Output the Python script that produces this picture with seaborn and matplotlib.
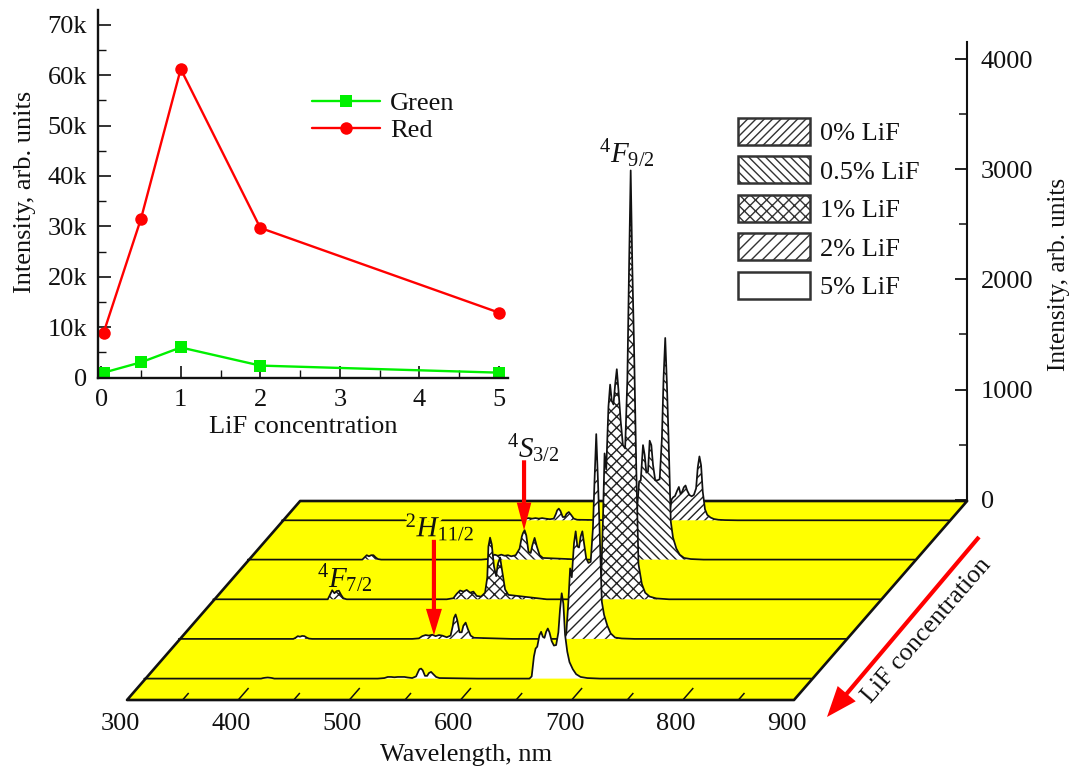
import numpy as np
import pandas as pd
import matplotlib
matplotlib.use('Agg')
import matplotlib.pyplot as plt
import matplotlib.patheffects as pe
from matplotlib.patches import Patch
from matplotlib.transforms import Affine2D
from matplotlib.ticker import MultipleLocator, FuncFormatter
import seaborn as sns

# Inset: integrated intensity vs LiF concentration
concentration = [0.03, 0.5, 1, 2, 5]
green_values = [1000, 3050, 6000, 2400, 1000]
red_values = [8900, 31500, 61200, 29700, 12900]

# Spectra on a shared wavelength grid
wavelength = [300, 403, 405, 407, 409, 411, 413, 415, 417, 420,
              510, 516, 519, 522, 525, 528, 531, 534, 537, 541,
              544.5, 546.5, 547.5, 549, 550.5, 552.5, 554.5, 556, 558, 560,
              562.5, 565.5, 600, 646.5, 648.5, 650.5, 652, 653.5, 655.5, 657,
              658.5, 660, 661.5, 663, 664.5, 666.5, 668.5, 670.5, 672.5, 674,
              675.5, 677, 678.5, 680.5, 682.5, 685.5, 688.5, 692.5, 698.5, 710, 900]
lif_0 = [0, 0, 0, 0, 0, 0, 0, 0, 0, 0,
         0, 0, 15, 20, 15, 20, 15, 20, 15, 10,
         15, 60, 90, 106, 85, 30, 30, 60, 75, 50,
         15, 5, 0, 0, 60, 190, 210, 220, 270, 303,
         240, 260, 300, 316, 270, 230, 218, 230, 290, 480,
         580, 500, 260, 100, 50, 25, 12, 5, 2, 0, 0]
lif_05 = [0, 0, 20, 40, 30, 40, 40, 20, 5, 0,
          0, 5, 25, 45, 35, 45, 35, 40, 30, 40,
          100, 210, 240, 267, 220, 70, 60, 130, 197, 120,
          40, 15, 0, 0, 20, 500, 710, 720, 1040, 950,
          790, 800, 1080, 1040, 860, 720, 720, 730, 1100, 1650,
          2013, 1600, 1100, 345, 200, 100, 45, 15, 5, 0, 0]
lif_1 = [0, 0, 40, 82, 55, 75, 78, 40, 10, 0,
         0, 10, 50, 80, 70, 85, 60, 70, 30, 25,
         60, 200, 480, 560, 500, 300, 210, 320, 380, 250,
         90, 40, 0, 0, 40, 700, 1325, 1180, 1750, 1950,
         1800, 1770, 1950, 2090, 1900, 1620, 1400, 1370, 2000, 3000,
         3895, 3000, 2300, 1200, 320, 140, 60, 25, 8, 0, 0]
lif_2 = [0, 0, 10, 25, 20, 27, 25, 12, 3, 0,
         0, 5, 25, 35, 30, 38, 25, 35, 30, 15,
         30, 120, 190, 222, 170, 60, 60, 120, 148, 90,
         30, 10, 0, 0, 40, 350, 640, 560, 870, 977,
         840, 830, 930, 977, 870, 730, 690, 700, 1000, 1450,
         1860, 1450, 1000, 340, 220, 120, 50, 12, 4, 0, 0]
lif_5 = [0, 0, 0, 5, 8, 10, 8, 5, 0, 0,
         0, 5, 15, 15, 12, 15, 15, 15, 10, 5,
         20, 65, 85, 91, 75, 25, 25, 50, 61, 40,
         15, 5, 0, 0, 20, 200, 273, 290, 395, 425,
         380, 370, 425, 455, 420, 340, 300, 305, 420, 630,
         775, 680, 400, 245, 150, 85, 40, 15, 5, 0, 0]

spectra = [lif_0, lif_05, lif_1, lif_2, lif_5]
legend_labels = ['0% LiF', '0.5% LiF', '1% LiF', '2% LiF', '5% LiF']
hatches = ['////', '\\\\\\\\', 'xxx', '///', '']
row_depth = [20.7, 60, 99.7, 139.3, 179]   # px below the back edge of the floor
floor_depth = 199
SLANT = 0.87
W, H = 1071, 770
FS = 19


def px(x, y):
    return x / W, 1 - y / H


sns.set_theme(style='ticks')
plt.rcParams['font.family'] = ['Liberation Serif']
plt.rcParams['mathtext.fontset'] = 'custom'
plt.rcParams['mathtext.rm'] = 'Liberation Serif'
plt.rcParams['mathtext.it'] = 'Liberation Serif:italic'
plt.rcParams['hatch.linewidth'] = 1.0
plt.rcParams['text.color'] = '#111111'
plt.rcParams['xtick.color'] = '#111111'
plt.rcParams['ytick.color'] = '#111111'

fig = plt.figure(figsize=(W / 100, H / 100), dpi=100, facecolor='white')

# Floor: wavelength across, depth into the picture, sheared
ax_floor = fig.add_axes([127 / W, (H - 700) / H, 667 / W, floor_depth / H], zorder=1)
ax_floor.set_xlim(300, 900)
ax_floor.set_ylim(0, floor_depth)
ax_floor.patch.set_visible(False)
for s in ax_floor.spines.values():
    s.set_visible(False)
y0 = H - 700
shear = Affine2D().translate(0, -y0).skew(np.arctan(SLANT), 0).translate(0, y0)
floor_trans = ax_floor.transData + shear
ax_floor.fill([300, 900, 900, 300], [0, 0, floor_depth, floor_depth], facecolor='#ffff00',
              edgecolor='#111111', linewidth=1.9, joinstyle='round', transform=floor_trans, clip_on=False)
ax_floor.vlines(np.arange(400, 900, 100), 0, 12, color='#111111', linewidth=1.1, transform=floor_trans)
ax_floor.vlines(np.arange(350, 900, 100), 0, 7, color='#111111', linewidth=1.1, transform=floor_trans)
ax_floor.set_xticks(np.arange(300, 901, 100))
ax_floor.set_yticks([])
ax_floor.tick_params(axis='x', length=0, pad=9, labelsize=FS)
for lab in ax_floor.get_xticklabels():
    lab.set_transform(lab.get_transform() + Affine2D().translate(-7, 0))

# Main axes: wavelength / intensity, only the right spine is shown
top = (499.6 - 41.7) / 0.1101
ax = fig.add_axes([300 / W, (H - 499.6) / H, 667 / W, (499.6 - 41.7) / H], zorder=2)
ax.set_xlim(300, 900)
ax.patch.set_visible(False)
for name, s in ax.spines.items():
    s.set_visible(name == 'right')
    s.set_linewidth(1.5)
    s.set_color('#111111')

for i, vals in enumerate(spectra):
    d = row_depth[i]
    row_trans = ax.transData + Affine2D().translate(-SLANT * d, -d)
    ax.fill_between(wavelength, 0, vals, facecolor='white', edgecolor='#222222', hatch=hatches[i],
                    linewidth=0, transform=row_trans, clip_on=False, zorder=2 + i)
    sns.lineplot(x=wavelength, y=vals, ax=ax, color='#111111', linewidth=1.25, estimator=None,
                 sort=False, errorbar=None, transform=row_trans, clip_on=False, zorder=2 + i,
                 solid_joinstyle='round')

ax.set_xlim(300, 900)
ax.set_ylim(0, top)
ax.set_xticks([])
ax.yaxis.tick_right()
ax.set_yticks([0, 1000, 2000, 3000, 4000])
ax.yaxis.set_minor_locator(MultipleLocator(500))
ax.tick_params(axis='y', which='major', direction='in', length=9, width=1.3, pad=10, labelsize=FS, right=True, left=False)
ax.tick_params(axis='y', which='minor', direction='in', length=5.5, width=1.1, right=True, left=False)

# Red arrows on the spectra
arrow_row = ax.transData + Affine2D().translate(-SLANT * row_depth[1], -row_depth[1])
ax.annotate('', xy=(548.5, 266), xycoords=arrow_row, xytext=(0, 70), textcoords='offset pixels', zorder=20,
            arrowprops=dict(arrowstyle='simple,head_length=20,head_width=10.5,tail_width=3', mutation_scale=1,
                            color='#ff0000', lw=0, shrinkA=0, shrinkB=0))
arrow_row = ax.transData + Affine2D().translate(-SLANT * row_depth[3], -row_depth[3])
ax.annotate('', xy=(529.5, 33), xycoords=arrow_row, xytext=(0, 96), textcoords='offset pixels', zorder=20,
            arrowprops=dict(arrowstyle='simple,head_length=19,head_width=11.5,tail_width=3', mutation_scale=1,
                            color='#ff0000', lw=0, shrinkA=0, shrinkB=0))
ax.annotate('', xy=(827, H - 717), xycoords='figure pixels', xytext=(979, H - 537), textcoords='figure pixels',
            zorder=20, arrowprops=dict(arrowstyle='simple,head_length=22,head_width=17,tail_width=3', mutation_scale=1,
                                       color='#ff0000', lw=0, shrinkA=0, shrinkB=0))

# Legend of the spectra
handles = [Patch(facecolor='white', edgecolor='#333333', hatch=h, linewidth=1.8) for h in hatches]
fig.legend(handles, legend_labels, loc='upper left', bbox_to_anchor=px(738, 118), frameon=False, fontsize=FS,
           borderpad=0, borderaxespad=0, handlelength=2.73, handleheight=1.19, labelspacing=0.42, handletextpad=0.38)

# Level labels
stroke = [pe.withStroke(linewidth=5, foreground='#ffff00')]
fig.text(*px(627, 154), r'$^{4}F_{9/2}$', fontsize=21, ha='center', va='center')
fig.text(*px(533, 449), r'$^{4}S_{3/2}$', fontsize=21, ha='center', va='center')
fig.text(*px(440, 527), r'$^{2}H_{11/2}$', fontsize=21, ha='center', va='center', path_effects=stroke)
fig.text(*px(345, 579), r'$^{4}F_{7/2}$', fontsize=21, ha='center', va='center')

fig.text(*px(466, 755), 'Wavelength, nm', fontsize=FS, ha='center', va='center')
fig.text(*px(1059, 274), 'Intensity, arb. units', fontsize=18.2, rotation=90, ha='center', va='center')
fig.text(*px(927, 631), 'LiF concentration', fontsize=18.5, rotation=49, ha='center', va='center', rotation_mode='anchor')

# Inset
inset = fig.add_axes([98 / W, (H - 377.7) / H, 409.7 / W, 367.7 / H], zorder=3)
inset.patch.set_visible(False)
df = pd.DataFrame({'LiF': concentration * 2,
                   'Intensity': red_values + green_values,
                   'Band': ['Red'] * 5 + ['Green'] * 5})
sns.lineplot(data=df, x='LiF', y='Intensity', hue='Band', style='Band', ax=inset, errorbar=None, sort=False,
             palette={'Red': '#ff0000', 'Green': '#00f000'}, markers={'Red': 'o', 'Green': 's'},
             dashes=False, linewidth=1.7, markeredgewidth=0, markersize=9, clip_on=False)
inset.set_xlim(-0.04, 5.11)
inset.set_ylim(0, 72900)
inset.set_xlabel('')
inset.set_ylabel('')
inset.set_xticks([0, 1, 2, 3, 4, 5])
inset.set_yticks(np.arange(0, 70001, 10000))
inset.xaxis.set_minor_locator(MultipleLocator(0.5))
inset.yaxis.set_minor_locator(MultipleLocator(5000))
inset.yaxis.set_major_formatter(FuncFormatter(lambda v, p: '0' if v == 0 else '%dk' % (v / 1000)))
inset.tick_params(which='major', direction='in', length=9, width=1.2, pad=8, labelsize=FS)
inset.tick_params(which='minor', direction='in', length=5.5, width=1.0)
sns.despine(ax=inset)
for name in ('left', 'bottom'):
    inset.spines[name].set_linewidth(1.7)
    inset.spines[name].set_color('#111111')
h, l = inset.get_legend_handles_labels()
order = [l.index('Green'), l.index('Red')]
inset.legend([h[k] for k in order], [l[k] for k in order], loc='upper left', bbox_to_anchor=(214 / 409.7, 1 - 81.5 / 367.7),
             frameon=False, fontsize=FS, borderpad=0, borderaxespad=0, handlelength=2.58, labelspacing=0.15, handletextpad=0.38)

fig.text(*px(25, 192), 'Intensity, arb. units', fontsize=19, rotation=90, ha='center', va='center')
fig.text(*px(303, 427), 'LiF concentration', fontsize=FS, ha='center', va='center')

fig.savefig('out.png', dpi=100)
